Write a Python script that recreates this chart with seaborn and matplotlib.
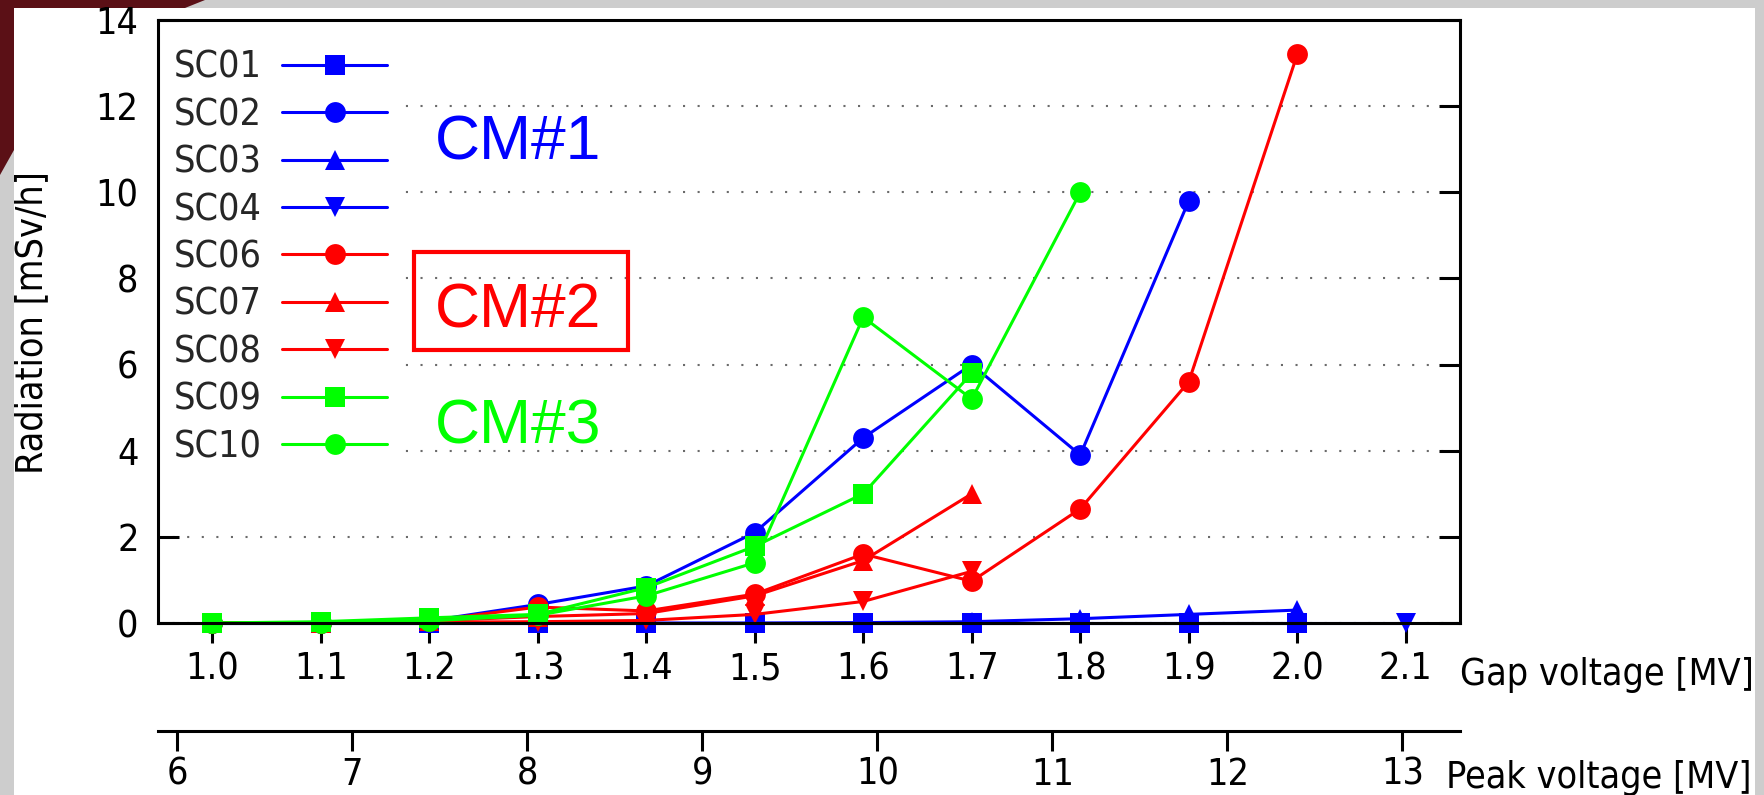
import matplotlib
matplotlib.use("Agg")
import matplotlib.pyplot as plt
from matplotlib import font_manager
from matplotlib.patches import Rectangle, Polygon
import numpy as np
import pandas as pd
import seaborn as sns

# ---------------- data ----------------
gap_voltage = [1.0, 1.1, 1.2, 1.3, 1.4, 1.5, 1.6, 1.7, 1.8, 1.9, 2.0, 2.1]
gap_tick_labels = ["1.0", "1.1", "1.2", "1.3", "1.4", "1.5",
                   "1.6", "1.7", "1.8", "1.9", "2.0", "2.1"]
peak_ticks = [6, 7, 8, 9, 10, 11, 12, 13]
peak_tick_labels = ["6", "7", "8", "9", "10", "11", "12", "13"]
PEAK_PER_GAP = 6.2
y_ticks = [0, 2, 4, 6, 8, 10, 12, 14]
y_tick_labels = ["0", "2", "4", "6", "8", "10", "12", "14"]

series_names = ["SC01", "SC02", "SC03", "SC04", "SC06",
                "SC07", "SC08", "SC09", "SC10"]
sc01 = [0.0, 0.0, 0.0, 0.0, 0.0, 0.0, 0.0, 0.0, 0.0, 0.0, 0.0]
sc02 = [0.0, 0.01, 0.05, 0.43, 0.86, 2.1, 4.3, 6.0, 3.9, 9.8]
sc03 = [0.0, 0.0, 0.0, 0.0, 0.0, 0.0, 0.01, 0.03, 0.1, 0.2, 0.3]
sc04 = [0.0, 0.0, 0.0, 0.0, 0.0, 0.0, 0.0, 0.0, 0.0, 0.0, 0.0, 0.0]
sc06 = [0.0, 0.01, 0.05, 0.37, 0.28, 0.67, 1.6, 0.97, 2.65, 5.6, 13.2]
sc07 = [0.0, 0.01, 0.05, 0.15, 0.22, 0.63, 1.45, 3.0]
sc08 = [0.0, 0.0, 0.02, 0.03, 0.06, 0.2, 0.5, 1.2]
sc09 = [0.0, 0.03, 0.12, 0.2, 0.82, 1.78, 3.0, 5.8]
sc10 = [0.0, 0.01, 0.05, 0.18, 0.63, 1.4, 7.1, 5.2, 10.0]
series_values = [sc01, sc02, sc03, sc04, sc06, sc07, sc08, sc09, sc10]
series_colors = ["#0000ff", "#0000ff", "#0000ff", "#0000ff", "#ff0000",
                 "#ff0000", "#ff0000", "#00ff00", "#00ff00"]
series_markers = ["s", "o", "^", "v", "o", "^", "v", "s", "o"]

group_labels = ["CM#1", "CM#2", "CM#3"]
group_colors = ["#0000ff", "#ff0000", "#00ff00"]

# ---------------- style ----------------
sns.set_theme(style="white")
condensed = any(
    f.name == "DejaVu Sans" and "condensed" in str(f.stretch).lower()
    and f.style == "normal"
    for f in font_manager.fontManager.ttflist
)
plt.rcParams["font.family"] = ["DejaVu Sans"]
if condensed:
    plt.rcParams["font.stretch"] = "condensed"
FS = 27 if condensed else 24.5

W, H = 1764, 795
fig = plt.figure(figsize=(W / 100, H / 100), dpi=100)


def fx(px):
    return px / W


def fy(py):
    return 1 - py / H


# slide background
fig.patch.set_facecolor("#cdcdcd")
fig.patches.append(Polygon([(fx(0), fy(0)), (fx(205), fy(0)), (fx(185), fy(8)),
                            (fx(14), fy(8)), (fx(14), fy(150)), (fx(0), fy(175))],
                           closed=True, transform=fig.transFigure,
                           facecolor="#5b1016", edgecolor="none", zorder=-2))
fig.patches.append(Rectangle((fx(14), fy(795)), fx(1755) - fx(14), fy(8) - fy(795),
                             transform=fig.transFigure, facecolor="white",
                             edgecolor="none", zorder=-2))

ax_left, ax_right, ax_top, ax_bottom = 158, 1460, 20, 623
ax = fig.add_axes([fx(ax_left), fy(ax_bottom), fx(ax_right) - fx(ax_left),
                   fy(ax_top) - fy(ax_bottom)])
ax.set_facecolor("white")

rows = []
for name, vals in zip(series_names, series_values):
    for g, v in zip(gap_voltage, vals):
        rows.append({"series": name, "gap": g, "radiation": v})
df = pd.DataFrame(rows)

for name, color, marker in zip(series_names, series_colors, series_markers):
    sub = df[df["series"] == name]
    sns.lineplot(data=sub, x="gap", y="radiation", color=color, marker=marker,
                 markersize=15, markeredgewidth=0, linewidth=2.2,
                 errorbar=None, label=name, ax=ax, clip_on=False)

ax.set_xlim(0.95, 2.15)
ax.set_ylim(0, 14)
ax.set_xticks(gap_voltage)
ax.set_xticklabels(gap_tick_labels, fontsize=FS)
ax.set_yticks(y_ticks)
ax.set_yticklabels(y_tick_labels, fontsize=FS)
ax.set_xlabel("")
ax.set_ylabel("")

for s in ax.spines.values():
    s.set_visible(True)
    s.set_color("black")
    s.set_linewidth(2.2)

ax.tick_params(axis="x", which="both", bottom=True, top=False, direction="out",
               length=14.5, width=2.2, pad=6, colors="black")
ax.tick_params(axis="y", which="both", left=True, right=True, direction="in",
               length=15, width=2.2, pad=14, colors="black")
ax.set_axisbelow(True)
ax.yaxis.grid(True, color="#6a6a6a", linestyle=(0, (1, 6)), linewidth=1.5)
ax.xaxis.grid(False)

# secondary (peak voltage) axis
sec = ax.secondary_xaxis(-(731 - ax_bottom) / (ax_bottom - ax_top),
                         functions=(lambda g: g * PEAK_PER_GAP,
                                    lambda p: p / PEAK_PER_GAP))
sec.set_xticks(peak_ticks)
sec.set_xticklabels(peak_tick_labels, fontsize=FS)
sec.tick_params(axis="x", direction="out", length=14.5, width=2.2, pad=4,
                colors="black")
sec.spines["bottom"].set_linewidth(2.2)
sec.spines["bottom"].set_color("black")

# legend (text first, sample after)
leg = ax.legend(loc="upper left", bbox_to_anchor=(0, 1 - 14 / (ax_bottom - ax_top)),
                markerfirst=False, fontsize=FS, frameon=True, fancybox=False,
                framealpha=1, facecolor="white", edgecolor="white",
                borderaxespad=0, borderpad=0.42, labelspacing=0.305,
                handlelength=2.8, handletextpad=0.55)
leg.set_zorder(2.3)

# axis titles
fig.text(fx(32), fy(323), "Radiation [mSv/h]", rotation=90, ha="center",
         va="center", fontsize=FS, color="black")
fig.text(fx(1460), fy(675), "Gap voltage [MV]", ha="left", va="center",
         fontsize=FS, color="black")
fig.text(fx(1446), fy(778), "Peak voltage [MV]", ha="left", va="center",
         fontsize=FS, color="black")

# module annotations
cm_baselines = [160, 327, 443]
for lab, col, base in zip(group_labels, group_colors, cm_baselines):
    fig.text(fx(435), fy(base), lab, ha="left", va="baseline", color=col,
             fontsize=45, family=["Liberation Sans", "DejaVu Sans"],
             fontstretch="normal", zorder=10)
fig.patches.append(Rectangle((fx(414), fy(350)), fx(628) - fx(414), fy(252) - fy(350),
                             transform=fig.transFigure, facecolor="none",
                             edgecolor="#ff0000", linewidth=3, zorder=10))

fig.savefig("out.png", dpi=100, facecolor=fig.get_facecolor())
